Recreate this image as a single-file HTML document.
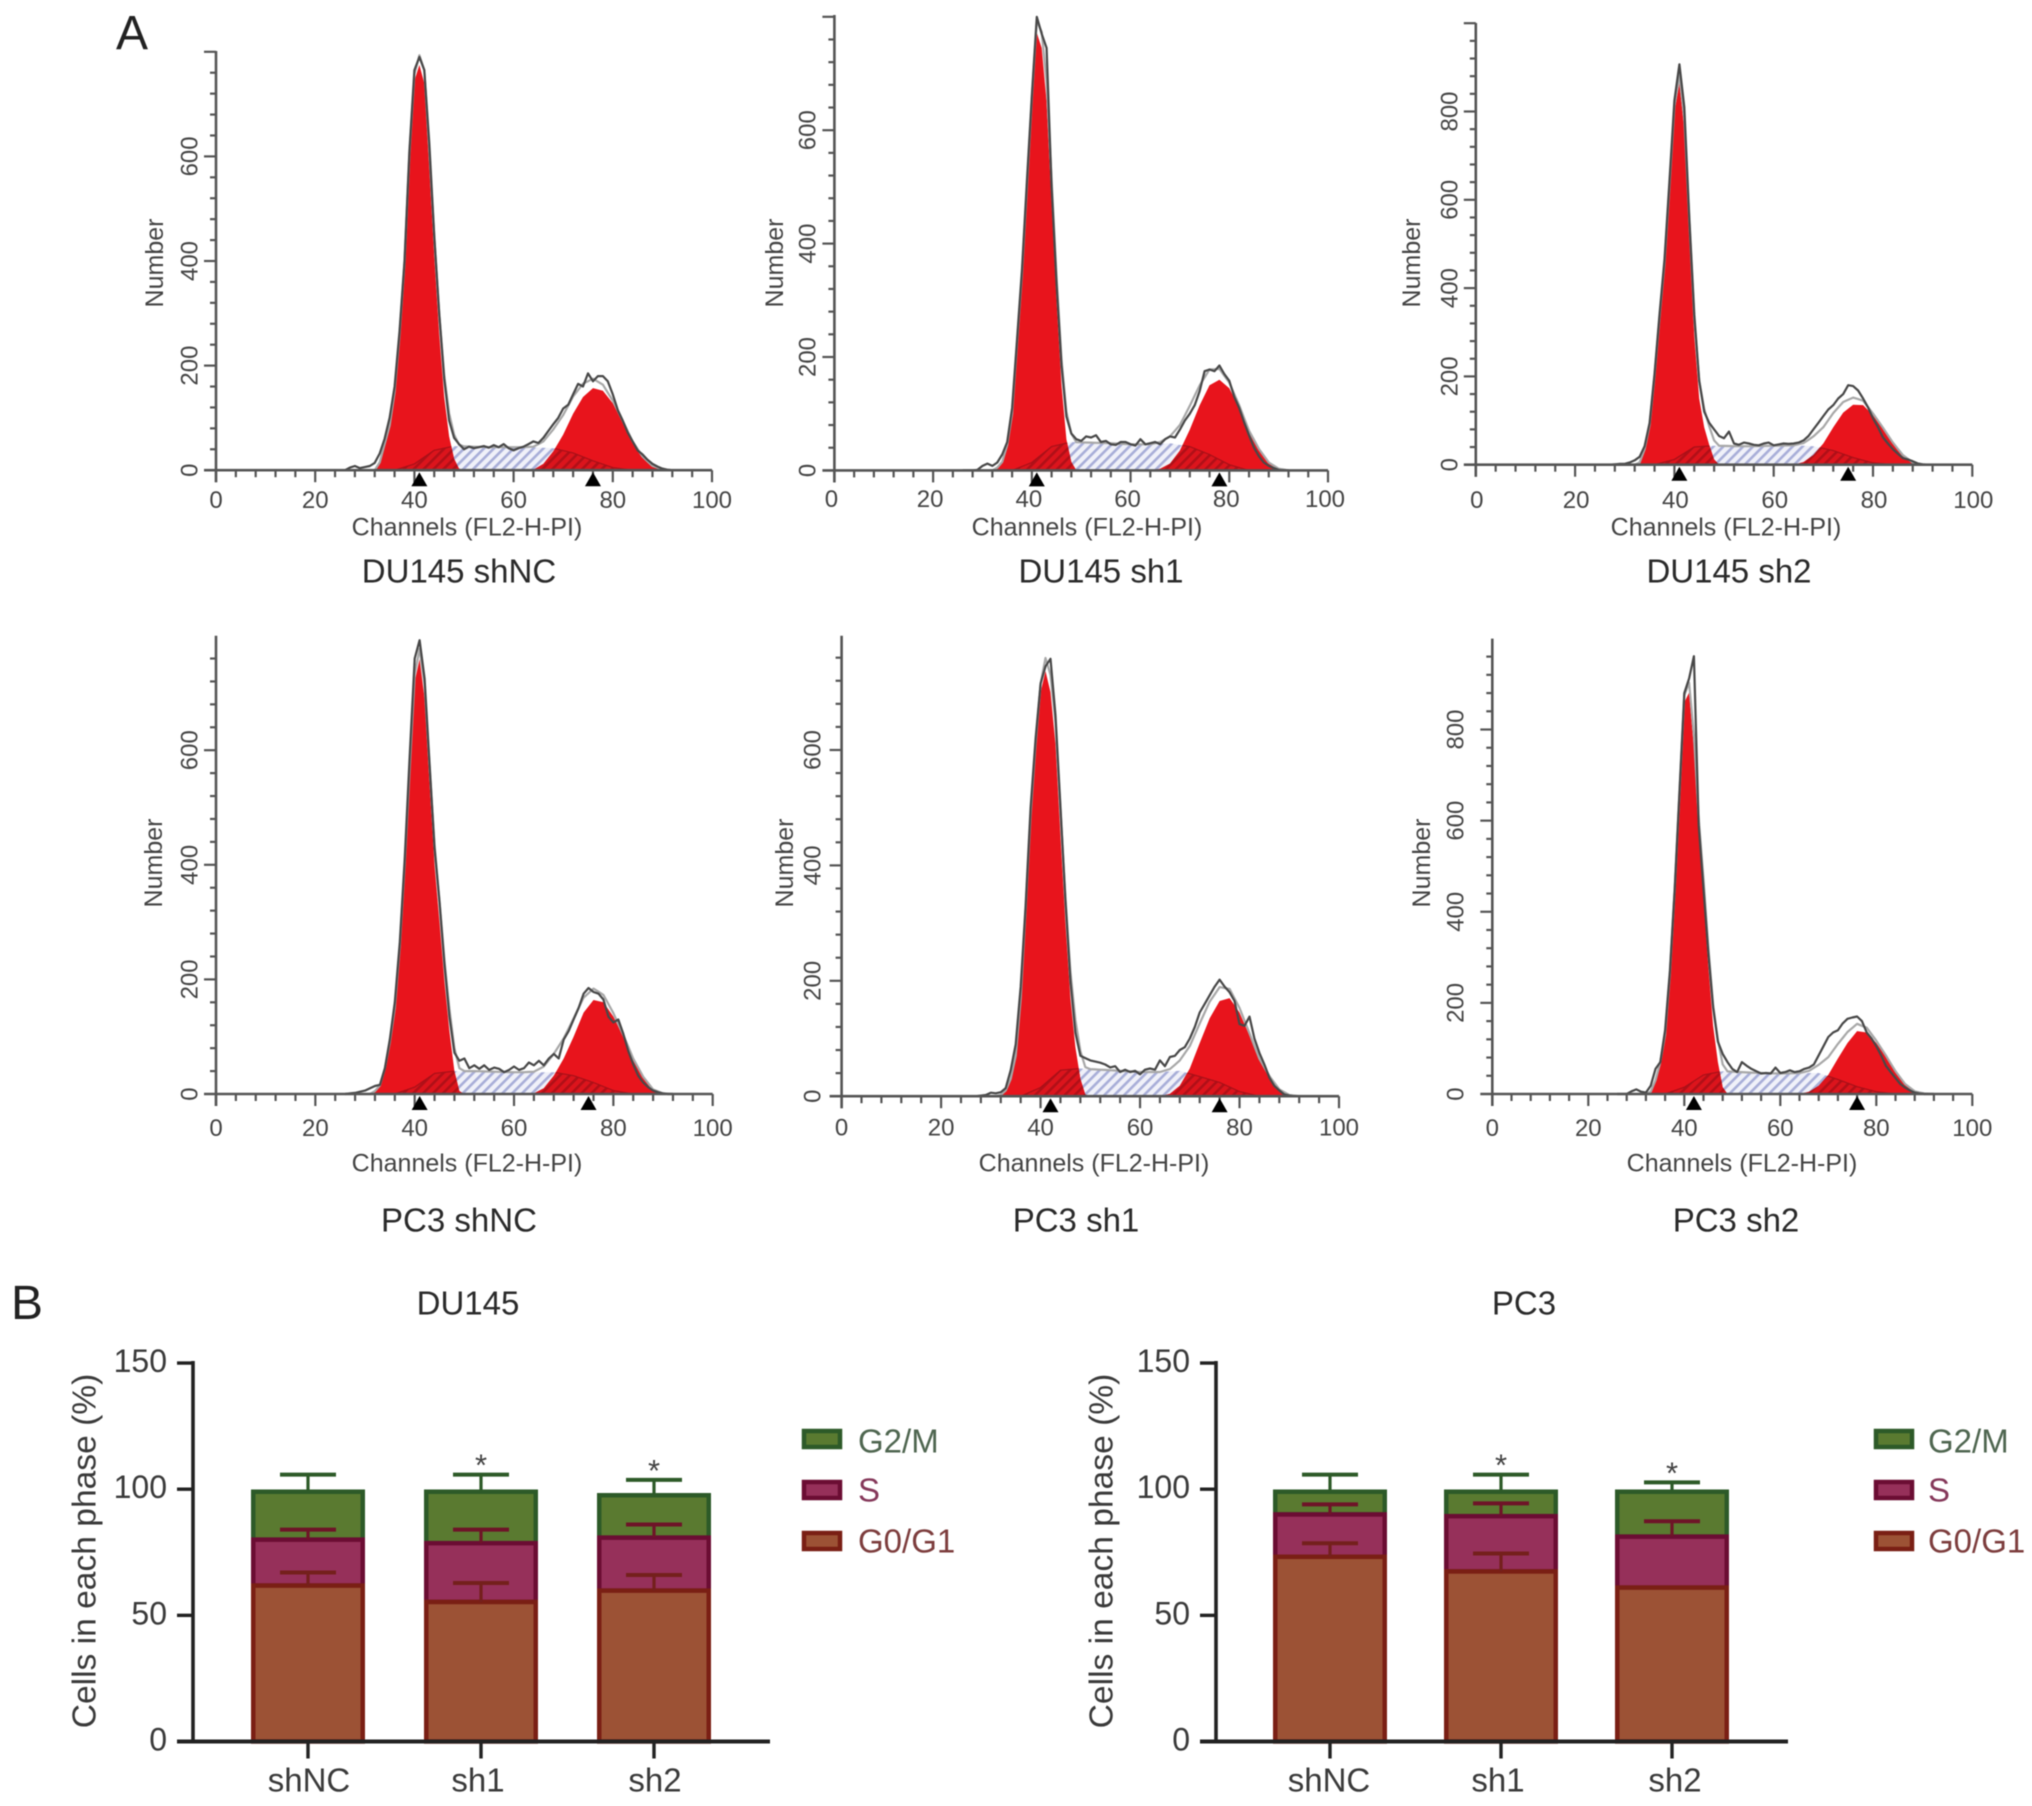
<!DOCTYPE html>
<html lang="en">
<head>
<meta charset="utf-8">
<title>Cell cycle analysis of DU145 and PC3</title>
<style>
html,body{margin:0;padding:0;background:#fff;width:2032px;height:1806px;overflow:hidden}
svg{display:block;filter:blur(.6px)}
text{font-family:"Liberation Sans",sans-serif}
.flow{font-size:24px;fill:#444}
.axt{font-size:25px;fill:#444}
.ttl{font-size:33px;fill:#2a2a2a}
.bt{font-size:33.6px;fill:#3a3a3a}
.let{font-size:48px;fill:#222}
.leg{font-size:33px}
</style>
</head>
<body>
<svg id="fig" xmlns="http://www.w3.org/2000/svg" width="2032" height="1806" viewBox="0 0 2032 1806">
<defs>
<pattern id="hatchBlue" patternUnits="userSpaceOnUse" width="7" height="7" patternTransform="rotate(45)">
<rect width="7" height="7" fill="#f0f1f9"/><rect width="2.6" height="7" fill="#a8aed8"/>
</pattern>
<pattern id="hatchRed" patternUnits="userSpaceOnUse" width="7" height="7" patternTransform="rotate(45)">
<rect width="7" height="7" fill="#dc141c"/><rect width="2.6" height="7" fill="#b01018"/>
</pattern>
</defs>
<rect width="2032" height="1806" fill="#fff"/>

<text class="let" x="132" y="49" text-anchor="middle">A</text>
<text class="let" x="27" y="1319" text-anchor="middle">B</text>

<text class="axt" transform="rotate(-90 155 263)" x="155" y="263" text-anchor="middle" dominant-baseline="central">Number</text>
<text class="axt" transform="rotate(-90 775 263)" x="775" y="263" text-anchor="middle" dominant-baseline="central">Number</text>
<text class="axt" transform="rotate(-90 1412 263)" x="1412" y="263" text-anchor="middle" dominant-baseline="central">Number</text>
<text class="axt" transform="rotate(-90 154 863)" x="154" y="863" text-anchor="middle" dominant-baseline="central">Number</text>
<text class="axt" transform="rotate(-90 785 863)" x="785" y="863" text-anchor="middle" dominant-baseline="central">Number</text>
<text class="axt" transform="rotate(-90 1422 863)" x="1422" y="863" text-anchor="middle" dominant-baseline="central">Number</text>

<text class="axt" x="467" y="527.4" text-anchor="middle" dominant-baseline="central">Channels (FL2-H-PI)</text>
<text class="axt" x="1087" y="527.4" text-anchor="middle" dominant-baseline="central">Channels (FL2-H-PI)</text>
<text class="axt" x="1726" y="527.4" text-anchor="middle" dominant-baseline="central">Channels (FL2-H-PI)</text>
<text class="axt" x="467" y="1163.5" text-anchor="middle" dominant-baseline="central">Channels (FL2-H-PI)</text>
<text class="axt" x="1094" y="1163.5" text-anchor="middle" dominant-baseline="central">Channels (FL2-H-PI)</text>
<text class="axt" x="1742" y="1163.5" text-anchor="middle" dominant-baseline="central">Channels (FL2-H-PI)</text>

<text class="ttl" x="459" y="571" text-anchor="middle" dominant-baseline="central">DU145 shNC</text>
<text class="ttl" x="1101" y="571" text-anchor="middle" dominant-baseline="central">DU145 sh1</text>
<text class="ttl" x="1729" y="571" text-anchor="middle" dominant-baseline="central">DU145 sh2</text>
<text class="ttl" x="459" y="1220" text-anchor="middle" dominant-baseline="central">PC3 shNC</text>
<text class="ttl" x="1076" y="1220" text-anchor="middle" dominant-baseline="central">PC3 sh1</text>
<text class="ttl" x="1736" y="1220" text-anchor="middle" dominant-baseline="central">PC3 sh2</text>

<text class="ttl" x="468" y="1303" text-anchor="middle" dominant-baseline="central">DU145</text>
<text class="ttl" x="1524" y="1303" text-anchor="middle" dominant-baseline="central">PC3</text>
<text class="bt" transform="rotate(-90 85 1551)" x="85" y="1551" text-anchor="middle" dominant-baseline="central">Cells in each phase (%)</text>
<text class="bt" transform="rotate(-90 1102 1551)" x="1102" y="1551" text-anchor="middle" dominant-baseline="central">Cells in each phase (%)</text>

<g>
<rect x="804" y="1431" width="36" height="16" fill="#5a7a30" stroke="#2d5a28" stroke-width="4.5"/>
<text class="leg" x="858" y="1441" dominant-baseline="central" fill="#4f6650">G2/M</text>
<rect x="804" y="1482" width="36" height="16" fill="#96305a" stroke="#6b0d33" stroke-width="4.5"/>
<text class="leg" x="858" y="1490" dominant-baseline="central" fill="#85385a">S</text>
<rect x="804" y="1533" width="36" height="16" fill="#9c5235" stroke="#7a1f14" stroke-width="4.5"/>
<text class="leg" x="858" y="1541" dominant-baseline="central" fill="#7d3d3d">G0/G1</text>
</g>
<g>
<rect x="1876" y="1431" width="36" height="16" fill="#5a7a30" stroke="#2d5a28" stroke-width="4.5"/>
<text class="leg" x="1928" y="1441" dominant-baseline="central" fill="#4f6650">G2/M</text>
<rect x="1876" y="1482" width="36" height="16" fill="#96305a" stroke="#6b0d33" stroke-width="4.5"/>
<text class="leg" x="1928" y="1490" dominant-baseline="central" fill="#85385a">S</text>
<rect x="1876" y="1533" width="36" height="16" fill="#9c5235" stroke="#7a1f14" stroke-width="4.5"/>
<text class="leg" x="1928" y="1541" dominant-baseline="central" fill="#7d3d3d">G0/G1</text>
</g>
<g id="plots"></g>
</svg>
<script>
/* ---------- flow cytometry data ---------- */
const histChannels = [26,27,28,29,30,31,32,33,34,35,36,37,38,39,40,41,42,43,44,45,46,47,48,49,50,51,52,53,54,55,56,57,58,59,60,61,62,63,64,65,66,67,68,69,70,71,72,73,74,75,76,77,78,79,80,81,82,83,84,85,86,87,88,89,90,91,92];
const g1Channels = [30,31,32,33,34,35,36,37,38,39,40,41,42,43,44,45,46,47,48,49,50,51,52];
const sChannels = [36,40,44,48,52,56,60,64,68,72,76,80,84];
const g2Channels = [60,62,64,66,68,70,72,74,76,78,80,82,84,86,88,90,92,94];
const xTickLabels = [0,20,40,60,80,100];
const yTickLabels600 = [0,200,400,600];
const yTickLabels800 = [0,200,400,600,800];

const histDuShNC = [0,5,8,4,6,8,14,32,60,100,
160,265,400,610,765,790,765,625,450,300,
175,95,62,50,40,45,42,44,46,43,
48,44,50,42,38,42,45,50,55,52,
62,75,88,100,118,125,145,165,160,185,
170,180,180,170,145,115,95,72,55,38,
30,20,12,7,3,1,0];
const g1DuShNC = [0,0,0,15,50,85,150,255,390,595,745,775,740,580,410,260,140,65,22,3,0,0,0];
const sDuShNC = [0,12,38,46,45,44,44,44,42,33,18,5,0];
const g2DuShNC = [0,0,1,12,36,68,108,140,157,152,128,92,55,26,8,2,0,0];
const marksDuShNC = [41,76];

const histDuSh1 = [0,0,0,1,8,12,8,14,28,50,
110,230,355,510,660,800,770,745,500,330,
185,95,65,55,52,60,58,62,50,52,
46,45,50,50,46,44,55,46,48,50,
46,55,60,58,72,88,100,115,140,175,
178,175,185,170,158,130,110,85,62,40,
25,14,8,4,1,0,0];
const g1DuSh1 = [0,0,0,5,15,45,100,220,340,490,640,772,745,650,470,300,150,55,15,0,0,0,0];
const sDuSh1 = [0,14,42,50,49,48,46,46,48,42,28,10,0];
const g2DuSh1 = [0,0,0,3,12,35,72,115,150,160,145,110,70,38,14,3,0,0];
const marksDuSh1 = [41,78];

const histDuSh2 = [0,0,1,2,2,5,10,18,42,95,
205,340,465,640,825,907,810,560,340,190,
120,95,80,65,60,75,48,45,50,48,
45,44,48,50,44,46,48,47,48,50,
55,65,80,95,110,125,135,150,160,180,
178,168,150,130,105,85,62,48,35,25,
15,12,8,3,1,0,0];
const g1DuSh2 = [0,0,0,5,35,90,200,330,450,620,800,864,760,520,290,150,85,45,12,0,0,0,0];
const sDuSh2 = [0,12,40,43,42,42,43,44,42,32,16,4,0];
const g2DuSh2 = [0,0,0,6,22,48,85,118,136,135,112,82,50,22,5,0,0,0];
const marksDuSh2 = [41,75];

const histPcShNC = [0,1,2,4,6,10,14,16,45,95,
160,265,410,590,760,792,725,575,430,335,
225,135,72,58,62,45,50,44,50,42,
46,44,38,42,48,42,45,55,50,58,
50,62,70,62,95,110,130,150,175,185,
178,175,165,135,125,130,105,75,52,32,
20,12,6,3,1,0,0];
const g1PcShNC = [0,0,5,15,45,90,150,255,395,560,720,759,690,540,400,300,195,110,40,5,0,0,0];
const sPcShNC = [0,12,36,40,40,39,38,38,38,32,20,6,0];
const g2PcShNC = [0,0,1,10,32,62,100,142,164,160,135,100,62,30,8,1,0,0];
const marksPcShNC = [41,75];

const histPcSh1 = [0,0,1,2,6,5,7,14,45,90,
190,330,500,620,715,745,758,660,500,340,
200,110,70,66,62,60,58,55,50,52,
42,46,42,44,38,46,48,46,62,52,
68,70,80,85,100,120,145,160,175,190,
202,190,180,165,125,122,138,100,75,55,
32,18,10,3,1,0,0];
const g1PcSh1 = [0,0,2,10,30,70,170,320,480,600,700,737,700,610,450,300,170,85,30,3,0,0,0];
const sPcSh1 = [0,15,45,48,46,44,42,42,44,34,24,8,0];
const g2PcSh1 = [0,0,0,4,18,48,92,135,165,170,145,105,65,35,12,2,0,0];
const marksPcSh1 = [42,76];

const histPcSh2 = [0,0,0,6,10,5,3,18,55,70,
140,270,450,665,880,912,961,590,450,310,
190,115,88,70,55,48,70,62,55,50,
45,46,45,58,46,48,52,48,50,55,
58,65,85,105,125,135,140,155,165,168,
170,160,135,122,105,85,62,48,35,22,
14,8,3,1,0,0,0];
const g1PcSh2 = [0,0,0,5,30,70,130,260,440,650,860,881,760,570,430,280,150,70,15,0,0,0,0];
const sPcSh2 = [0,15,42,50,48,46,45,46,46,32,16,5,0];
const g2PcSh2 = [0,0,0,5,18,42,78,112,138,135,112,82,50,22,6,1,0,0];
const marksPcSh2 = [42,76];

/* ---------- bar chart data ---------- */
const barCategories = ['shNC','sh1','sh2'];
const barYTickLabels = [0,50,100,150];
const duG0 = [61.8,55.3,59.8];
const duS = [18.2,23.3,21.0];
const duG2 = [19.0,20.4,16.8];
const duG0Err = [5.2,7.5,6.2];
const duSErr = [4.0,5.4,5.2];
const duG2Err = [6.8,6.8,6.1];
const duStars = [0,1,1];
const pcG0 = [73.2,67.4,61.0];
const pcS = [16.8,21.9,20.2];
const pcG2 = [9.0,9.7,17.8];
const pcG0Err = [5.4,7.1,0];
const pcSErr = [4.0,5.1,6.1];
const pcG2Err = [6.8,6.8,3.7];
const pcStars = [0,1,1];

/* ---------- helpers ---------- */
const SVGNS = 'http://www.w3.org/2000/svg';
const root = document.getElementById('plots');
function mk(tag, attrs, parent){
  const e = document.createElementNS(SVGNS, tag);
  for (const k in attrs) e.setAttribute(k, attrs[k]);
  parent.appendChild(e);
  return e;
}
function interp(xs, ys, x){
  if (x <= xs[0] || x >= xs[xs.length-1]) return 0;
  for (let i = 1; i < xs.length; i++){
    if (x <= xs[i]){
      const t = (x - xs[i-1]) / (xs[i] - xs[i-1]);
      return ys[i-1] + t * (ys[i] - ys[i-1]);
    }
  }
  return 0;
}
function areaPoints(xs, ys, sx, sy){
  const pts = xs.map((c, i) => sx(c).toFixed(1) + ',' + sy(ys[i]).toFixed(1));
  pts.unshift(sx(xs[0]).toFixed(1) + ',' + sy(0).toFixed(1));
  pts.push(sx(xs[xs.length-1]).toFixed(1) + ',' + sy(0).toFixed(1));
  return pts.join(' ');
}

/* ---------- flow histogram panels ---------- */
function drawPanel(id, fr, hist, g1, s, g2, marks, yLabels){
  const sx = c => fr.x0 + (fr.x100 - fr.x0) * c / 100;
  const sy = v => fr.y0 - v * fr.k;
  const g = mk('g', {}, root);
  
  

  const sBlue = mk('polygon', {points: areaPoints(sChannels, s, sx, sy), fill: 'url(#hatchBlue)'}, g);
  
  

  const g1Area = mk('polygon', {points: areaPoints(g1Channels, g1, sx, sy), fill: '#e8141c'}, g);
  
  

  const g2Area = mk('polygon', {points: areaPoints(g2Channels, g2, sx, sy), fill: '#e8141c'}, g);
  
  

  const clip = mk('clipPath', {id: 'clip-' + id}, g);
  
  
  mk('polygon', {points: areaPoints(g1Channels, g1, sx, sy)}, clip);
  mk('polygon', {points: areaPoints(g2Channels, g2, sx, sy)}, clip);

  const sRed = mk('polygon', {points: areaPoints(sChannels, s, sx, sy), fill: 'url(#hatchRed)', stroke: '#a81018', 'stroke-width': 1.2, 'clip-path': 'url(#clip-' + id + ')'}, g);
  
  

  const fitPts = histChannels.map(c => {
    const v = interp(g1Channels, g1, c) + interp(sChannels, s, c) + interp(g2Channels, g2, c);
    return sx(c).toFixed(1) + ',' + sy(v).toFixed(1);
  }).join(' ');
  const fit = mk('polyline', {points: fitPts, fill: 'none', stroke: '#a8a8a8', 'stroke-width': 2.2, 'stroke-linejoin': 'round'}, g);
  
  

  const histPts = histChannels.map((c, i) => sx(c).toFixed(1) + ',' + sy(hist[i]).toFixed(1)).join(' ');
  const line = mk('polyline', {points: histPts, fill: 'none', stroke: '#484848', 'stroke-width': 2.2, 'stroke-linejoin': 'round'}, g);
  
  

  const yAxis = mk('line', {x1: fr.x0, x2: fr.x0, y1: fr.top, y2: fr.y0 + 12, stroke: '#555', 'stroke-width': 2.6}, g);
  
  
  const xAxis = mk('line', {x1: fr.x0 - 12, x2: fr.x100, y1: fr.y0, y2: fr.y0, stroke: '#555', 'stroke-width': 2.6}, g);
  
  

  for (let v = 40; sy(v) >= fr.top; v += 40){
    const t = mk('line', {x1: fr.x0 - (v % 200 === 0 ? 12 : 6), x2: fr.x0, y1: sy(v), y2: sy(v), stroke: '#555', 'stroke-width': 2.2}, g);
    
    
  }
  for (let c = 0; c <= 100; c += 4){
    const major = c % 20 === 0;
    const t = mk('line', {x1: sx(c), x2: sx(c), y1: fr.y0, y2: fr.y0 + (major ? 12 : 7), stroke: '#555', 'stroke-width': 2.2}, g);
    
    
  }
  xTickLabels.forEach(v => {
    const t = mk('text', {x: sx(v) + fr.xlabShift, y: fr.xlabY, 'text-anchor': 'middle', 'dominant-baseline': 'central', class: 'flow'}, g);
    t.textContent = v;
    
    
  });
  yLabels.forEach(v => {
    const t = mk('text', {x: fr.ylabX, y: sy(v), transform: 'rotate(-90 ' + fr.ylabX + ' ' + sy(v) + ')', 'text-anchor': 'middle', 'dominant-baseline': 'central', class: 'flow'}, g);
    t.textContent = v;
    
    
  });
  marks.forEach(c => {
    const cx = sx(c);
    const tri = mk('polygon', {points: (cx - 8) + ',' + (fr.y0 + 16) + ' ' + (cx + 8) + ',' + (fr.y0 + 16) + ' ' + cx + ',' + (fr.y0 + 2), fill: '#000'}, g);
    
    
  });
}
drawPanel('du145-shnc', {x0:216, x100:712, y0:470.2, k:.523, top:51, xlabY:500.4, xlabShift:0, ylabX:190}, histDuShNC, g1DuShNC, sDuShNC, g2DuShNC, marksDuShNC, yTickLabels600);
drawPanel('du145-sh1', {x0:834.4, x100:1328, y0:470.4, k:.567, top:15, xlabY:499.5, xlabShift:-3, ylabX:808}, histDuSh1, g1DuSh1, sDuSh1, g2DuSh1, marksDuSh1, yTickLabels600);
drawPanel('du145-sh2', {x0:1475.8, x100:1972.3, y0:464.7, k:.4415, top:23, xlabY:500.4, xlabShift:1, ylabX:1450}, histDuSh2, g1DuSh2, sDuSh2, g2DuSh2, marksDuSh2, yTickLabels800);
drawPanel('pc3-shnc', {x0:216, x100:712.7, y0:1094, k:.573, top:635.7, xlabY:1128.5, xlabShift:0, ylabX:190}, histPcShNC, g1PcShNC, sPcShNC, g2PcShNC, marksPcShNC, yTickLabels600);
drawPanel('pc3-sh1', {x0:841.6, x100:1339, y0:1096.2, k:.577, top:635.7, xlabY:1128, xlabShift:0, ylabX:813}, histPcSh1, g1PcSh1, sPcSh1, g2PcSh1, marksPcSh1, yTickLabels600);
drawPanel('pc3-sh2', {x0:1492.3, x100:1972.3, y0:1094, k:.4556, top:638.6, xlabY:1128.5, xlabShift:0, ylabX:1456}, histPcSh2, g1PcSh2, sPcSh2, g2PcSh2, marksPcSh2, yTickLabels800);

/* ---------- stacked bar charts ---------- */
const PHASE_FILL = ['#9c5235','#96305a','#5a7a30'];
const PHASE_STROKE = ['#7a1f14','#6b0d33','#2d5a28'];
const PHASE_ERR = ['#74201c','#6e1428','#2d5a28'];
const PHASE_NAME = ['g0g1','s','g2m'];
function drawBars(id, fr, segs, errs, stars){
  const sy = v => fr.y0 - v * fr.k;
  const cx = i => fr.start + (i + .5) * fr.band;
  const g = mk('g', {}, root);
  
  

  barCategories.forEach((cat, i) => {
    const bottoms = [0, segs[0][i], segs[0][i] + segs[1][i]];
    for (let p = 2; p >= 0; p--){
      const y1 = sy(bottoms[p] + segs[p][i]);
      const y2 = sy(bottoms[p]);
      const r = mk('rect', {x: cx(i) - fr.w / 2, y: y1, width: fr.w, height: y2 - y1, fill: PHASE_FILL[p], stroke: PHASE_STROKE[p], 'stroke-width': 4.5}, g);
      
      
    }
    for (let p = 0; p < 3; p++){
      if (!errs[p][i]) continue;
      const yTop = sy(bottoms[p] + segs[p][i]);
      const yErr = sy(bottoms[p] + segs[p][i] + errs[p][i]);
      const v = mk('line', {x1: cx(i), x2: cx(i), y1: yTop, y2: yErr, stroke: PHASE_ERR[p], 'stroke-width': 3.2}, g);
      
      
      const c = mk('line', {x1: cx(i) - 28, x2: cx(i) + 28, y1: yErr, y2: yErr, stroke: PHASE_ERR[p], 'stroke-width': 4}, g);
      
      
    }
    if (stars[i]){
      const total = segs[0][i] + segs[1][i] + segs[2][i] + errs[2][i];
      const st = mk('text', {x: cx(i), y: sy(total) + 1, 'text-anchor': 'middle', 'font-size': 31, fill: '#444'}, g);
      st.textContent = '*';
      
      
    }
    const tick = mk('line', {x1: cx(i), x2: cx(i), y1: fr.y0, y2: fr.y0 + 17, stroke: '#222', 'stroke-width': 3.4}, g);
    
    
    const lab = mk('text', {x: cx(i) + fr.labOff[i], y: 1780, 'text-anchor': 'middle', 'dominant-baseline': 'central', 'font-size': 33, fill: '#3a3a3a'}, g);
    lab.textContent = cat;
    
    
  });

  const yAxis = mk('line', {x1: fr.axis, x2: fr.axis, y1: sy(150) - 2, y2: fr.y0, stroke: '#222', 'stroke-width': 3.6}, g);
  
  
  const xAxis = mk('line', {x1: fr.axis - 16, x2: fr.xEnd, y1: fr.y0, y2: fr.y0, stroke: '#222', 'stroke-width': 4}, g);
  
  
  barYTickLabels.forEach(v => {
    const t = mk('line', {x1: fr.axis - 16, x2: fr.axis, y1: sy(v), y2: sy(v), stroke: '#222', 'stroke-width': 3.4}, g);
    
    
    const l = mk('text', {x: fr.axis - 26, y: sy(v) - 2, 'text-anchor': 'end', 'dominant-baseline': 'central', 'font-size': 32, fill: '#3a3a3a'}, g);
    l.textContent = v;
    
    
  });
}
drawBars('du145', {y0:1741.5, k:2.523, start:221.5, band:173, w:109.5, axis:193, xEnd:770, labOff:[1,-3,1]}, [duG0, duS, duG2], [duG0Err, duSErr, duG2Err], duStars);
drawBars('pc3', {y0:1741.5, k:2.523, start:1244.5, band:171, w:109.5, axis:1216, xEnd:1788, labOff:[-1,-3,3]}, [pcG0, pcS, pcG2], [pcG0Err, pcSErr, pcG2Err], pcStars);
</script>
</body>
</html>
